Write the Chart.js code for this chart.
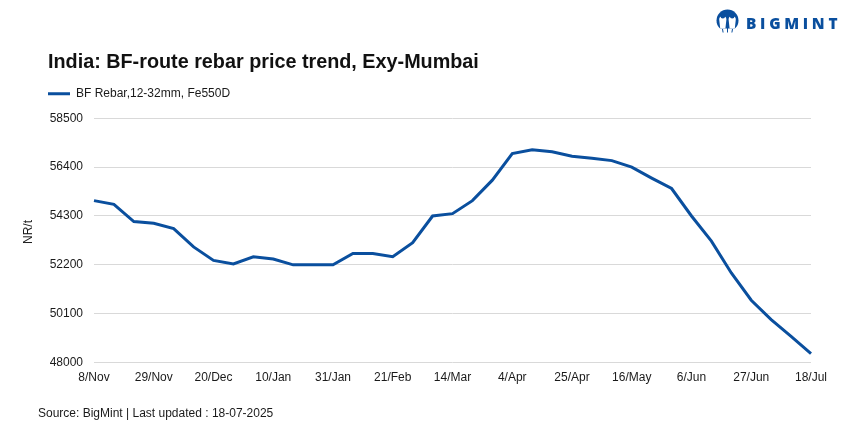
<!DOCTYPE html>
<html>
<head>
<meta charset="utf-8">
<title>BF-route rebar price trend</title>
<script src="https://cdn.jsdelivr.net/npm/chart.js@4"></script>
<style>
  html, body { margin: 0; background: #fff; }
  #box { position: relative; width: 864px; height: 432px; overflow: hidden; font-family: "Liberation Sans", sans-serif; color: #1a1a1a; }
  #grafico { position: absolute; left: 0; top: 0; }
  #unidade { position: absolute; left: 28px; top: 232px; font-size: 12px; transform: translate(-50%, -50%) rotate(-90deg); }
  #fonte { position: absolute; left: 38px; top: 406px; font-size: 12px; }
  #logo { position: absolute; left: 716px; top: 9px; }
  #marca { position: absolute; left: 746px; top: 15px; font: 800 15.4px "Open Sans", sans-serif; letter-spacing: 3.7px; color: #0a4f9e; line-height: 18px; }
</style>
</head>
<body>
<div id="box">
  <canvas id="grafico" width="864" height="432"></canvas>
  <div id="unidade">NR/t</div>
  <div id="fonte">Source: BigMint | Last updated : 18-07-2025</div>
  <svg id="logo" width="24" height="25" viewBox="0 0 24 25">
    <circle cx="11.5" cy="11.5" r="11" fill="#0a4f9e"/>
    <path d="M3.2 10.5a3.6 3.6 0 0 1 7.2 0l-1 9h-5.2zM12.6 10.5a3.6 3.6 0 0 1 7.2 0l-1 9h-5.2z" fill="#fff"/>
    <circle cx="6.8" cy="7.2" r="2.3" fill="#0a4f9e"/>
    <circle cx="16.2" cy="7.2" r="2.3" fill="#0a4f9e"/>
    <rect x="0" y="19.5" width="24" height="5" fill="#fff"/>
    <path d="M6.5 20l.6 3.5M11.5 19v4.5M16.5 20l-.6 3.5" stroke="#0a4f9e" stroke-width="1"/>
  </svg>
  <div id="marca">BIGMINT</div>
</div>
<script>
// dados
const titulo = "India: BF-route rebar price trend, Exy-Mumbai";
const nomeSerie = "BF Rebar,12-32mm, Fe550D";
const semanas = [
  "8/Nov", "15/Nov", "22/Nov", "29/Nov", "6/Dec", "13/Dec", "20/Dec", "27/Dec",
  "3/Jan", "10/Jan", "17/Jan", "24/Jan", "31/Jan", "7/Feb", "14/Feb", "21/Feb",
  "28/Feb", "7/Mar", "14/Mar", "21/Mar", "28/Mar", "4/Apr", "11/Apr", "18/Apr",
  "25/Apr", "2/May", "9/May", "16/May", "23/May", "30/May", "6/Jun", "13/Jun",
  "20/Jun", "27/Jun", "4/Jul", "11/Jul", "18/Jul"
];
const precos = [
  54960, 54800, 54060, 53990, 53760, 52970, 52390, 52240,
  52550, 52450, 52200, 52200, 52200, 52690, 52690, 52550,
  53150, 54300, 54400, 54960, 55840, 56980, 57150, 57060,
  56870, 56780, 56680, 56400, 55930, 55480, 54300, 53220,
  51850, 50680, 49850, 49130, 48390
];
const eixoY = [48000, 50100, 52200, 54300, 56400, 58500];

const azul = "#0a4f9e";
const cinza = "#d9d9d9";
const corTexto = "#1a1a1a";

// espaço extra entre a legenda e o gráfico
const espacoLegenda = {
  id: "espacoLegenda",
  beforeInit(chart) {
    const fitOriginal = chart.legend.fit;
    chart.legend.fit = function () {
      fitOriginal.call(this);
      this.height += 8.5;
    };
  }
};

new Chart(document.getElementById("grafico").getContext("2d"), {
  type: "line",
  data: {
    labels: semanas,
    datasets: [{
      label: nomeSerie,
      data: precos,
      borderColor: azul,
      backgroundColor: azul,
      borderWidth: 3,
      pointRadius: 0,
      tension: 0
    }]
  },
  plugins: [espacoLegenda],
  options: {
    responsive: false,
    animation: false,
    layout: { padding: { left: 48, right: 53, top: 51, bottom: 47 } },
    plugins: {
      title: {
        display: true,
        text: titulo,
        align: "start",
        color: "#111",
        font: { family: "Liberation Sans", size: 19.8, weight: "bold" },
        padding: { top: 0, bottom: 13 }
      },
      legend: {
        display: true,
        align: "start",
        labels: {
          usePointStyle: true,
          pointStyle: "line",
          pointStyleWidth: 22,
          boxHeight: 12,
          padding: 0,
          color: corTexto,
          font: { family: "Liberation Sans", size: 12 }
        }
      },
      tooltip: { enabled: false }
    },
    scales: {
      x: {
        grid: { display: false },
        border: { display: false },
        ticks: {
          autoSkip: false,
          maxRotation: 0,
          color: corTexto,
          padding: 0,
          font: { family: "Liberation Sans", size: 12 },
          callback: function (valor, i) {
            return i % 3 === 0 ? semanas[i] : "";
          }
        }
      },
      y: {
        min: eixoY[0],
        max: eixoY[eixoY.length - 1],
        afterFit: function (escala) { escala.width = 46; },
        afterBuildTicks: function (escala) {
          escala.ticks = eixoY.map(v => ({ value: v }));
        },
        grid: { color: cinza, lineWidth: 1, drawTicks: false },
        border: { display: false },
        ticks: {
          color: corTexto,
          padding: 11,
          font: { family: "Liberation Sans", size: 12 },
          callback: function (valor) { return String(valor); }
        }
      }
    }
  }
});
</script>
</body>
</html>
